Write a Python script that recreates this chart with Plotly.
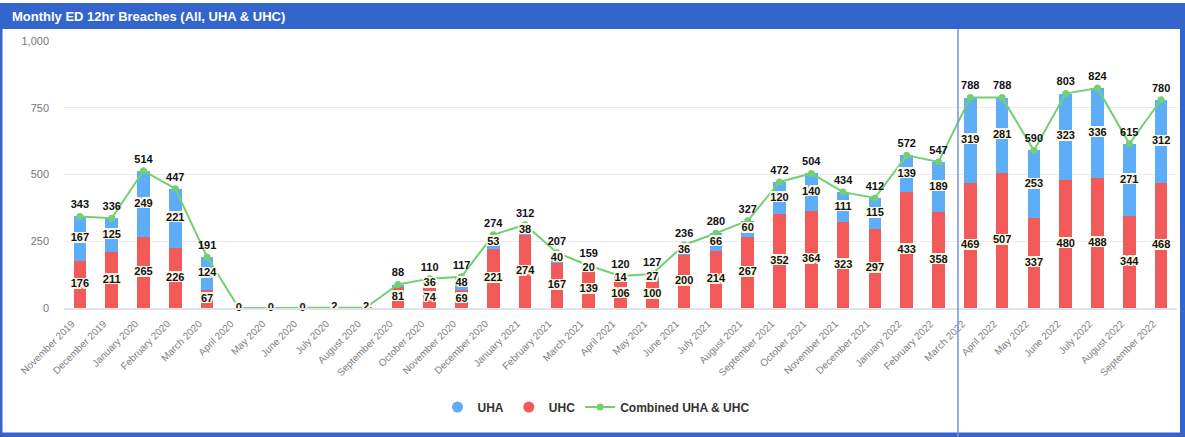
import plotly.graph_objects as go

months = ["November 2019", "December 2019", "January 2020", "February 2020", "March 2020",
          "April 2020", "May 2020", "June 2020", "July 2020", "August 2020",
          "September 2020", "October 2020", "November 2020", "December 2020",
          "January 2021", "February 2021", "March 2021", "April 2021", "May 2021",
          "June 2021", "July 2021", "August 2021", "September 2021", "October 2021",
          "November 2021", "December 2021", "January 2022", "February 2022",
          "March 2022", "April 2022", "May 2022", "June 2022", "July 2022",
          "August 2022", "September 2022"]
uhc = [176, 211, 265, 226, 67, 0, 0, 0, 2, 2, 81, 74, 69, 221, 274, 167, 139, 106, 100,
       200, 214, 267, 352, 364, 323, 297, 433, 358, 469, 507, 337, 480, 488, 344, 468]
uha = [167, 125, 249, 221, 124, 0, 0, 0, 0, 0, 7, 36, 48, 53, 38, 40, 20, 14, 27,
       36, 66, 60, 120, 140, 111, 115, 139, 189, 319, 281, 253, 323, 336, 271, 312]
combined = [343, 336, 514, 447, 191, 0, 0, 0, 2, 2, 88, 110, 117, 274, 312, 207, 159, 120, 127,
            236, 280, 327, 472, 504, 434, 412, 572, 547, 788, 788, 590, 803, 824, 615, 780]

BLUE = "#5eadf8"
RED = "#f25a5a"
GREEN = "#72d072"
FONT = "Liberation Sans"
HC = "#fffbea"
HALO = ", ".join(f"{dx}px {dy}px 0 {HC}" for dx, dy in
                 [(-1.5, -1.5), (1.5, -1.5), (-1.5, 1.5), (1.5, 1.5),
                  (-1.5, 0), (1.5, 0), (0, -1.5), (0, 1.5)]) + f", 0 0 2px {HC}"

fig = go.Figure()
fig.add_trace(go.Bar(x=months, y=uhc, marker_color=RED, marker_line_width=0,
                     name="UHC", showlegend=False, hoverinfo="skip"))
fig.add_trace(go.Bar(x=months, y=uha, marker_color=BLUE, marker_line_width=0,
                     name="UHA", showlegend=False, hoverinfo="skip"))

fig.add_trace(go.Scatter(x=[None], y=[None], mode="markers", name="UHA",
                         marker=dict(color=BLUE, size=11, symbol="circle")))
fig.add_trace(go.Scatter(x=[None], y=[None], mode="markers", name="UHC",
                         marker=dict(color=RED, size=11, symbol="circle")))

fig.add_trace(go.Scatter(
    x=months, y=combined, mode="lines+markers+text", name="Combined UHA & UHC",
    line=dict(color=GREEN, width=2), marker=dict(color=GREEN, size=7),
    text=[str(v) if v >= 10 else "" for v in combined], textposition="top center",
    textfont=dict(family=FONT, size=11, color="#111", weight="bold"),
    cliponaxis=False))

seg_x = months + months
seg_y = [c / 2 for c in uhc] + [c + a / 2 for c, a in zip(uhc, uha)]
seg_t = [str(c) for c in uhc] + [str(a) if a >= 10 else "" for a in uha]
fig.add_trace(go.Scatter(
    x=seg_x, y=seg_y, mode="text", text=seg_t, showlegend=False, hoverinfo="skip",
    textfont=dict(family=FONT, size=11, color="#111", weight="bold", shadow=HALO),
    cliponaxis=False))

W, H = 1185, 437
L, R, T, B = 64, 8, 41, 129
pw, ph = W - L - R, H - T - B


def px(x):
    return (x - L) / pw


def py(y):
    return (H - B - y) / ph


shapes = [
    dict(type="rect", xref="paper", yref="paper", x0=px(0), x1=px(W), y0=py(29), y1=py(3),
         fillcolor="#3465cc", line_width=0, layer="above"),
    dict(type="rect", xref="paper", yref="paper", x0=px(0), x1=px(2.5), y0=py(H), y1=py(29),
         fillcolor="#3465cc", line_width=0, layer="above"),
    dict(type="rect", xref="paper", yref="paper", x0=px(1180), x1=px(W), y0=py(H), y1=py(29),
         fillcolor="#3465cc", line_width=0, layer="above"),
    dict(type="rect", xref="paper", yref="paper", x0=px(0), x1=px(W), y0=py(H), y1=py(432.5),
         fillcolor="#3465cc", line_width=0, layer="above"),
    dict(type="line", xref="paper", yref="paper", x0=px(958), x1=px(958), y0=py(H), y1=py(29),
         line=dict(color="#6f94dc", width=1.5), layer="above"),
]

fig.update_layout(
    width=W, height=H,
    margin=dict(l=L, r=R, t=T, b=B),
    paper_bgcolor="white", plot_bgcolor="white",
    barmode="stack", bargap=0.6,
    font=dict(family=FONT, color="#666"),
    shapes=shapes,
    annotations=[dict(text="<b>Monthly ED 12hr Breaches (All, UHA &amp; UHC)</b>",
                      xref="paper", yref="paper", x=px(10), y=py(16),
                      xanchor="left", yanchor="middle", showarrow=False,
                      font=dict(family=FONT, size=13, color="white"))],
    legend=dict(orientation="h", x=px(596), xanchor="center", y=py(407), yanchor="middle",
                font=dict(family=FONT, size=12, color="#333", weight="bold"),
                traceorder="normal", itemwidth=30),
    xaxis=dict(tickangle=-45, tickfont=dict(size=10, color="#808080"), showgrid=False,
               showline=True, linecolor="#dde3ee", linewidth=2, ticks="",
               ticklabelshift=-8, ticklabelstandoff=4,
               range=[-0.5, len(months) - 0.5]),
    yaxis=dict(range=[0, 1000], tickvals=[0, 250, 500, 750, 1000], tickformat=",",
               gridcolor="#ebebeb", gridwidth=1, zeroline=False,
               tickfont=dict(size=11, color="#777"), ticklabelstandoff=14),
)

fig.write_html("out.html", config={"displayModeBar": False},
               post_script="document.body.style.margin='0';document.body.style.overflow='hidden';")
